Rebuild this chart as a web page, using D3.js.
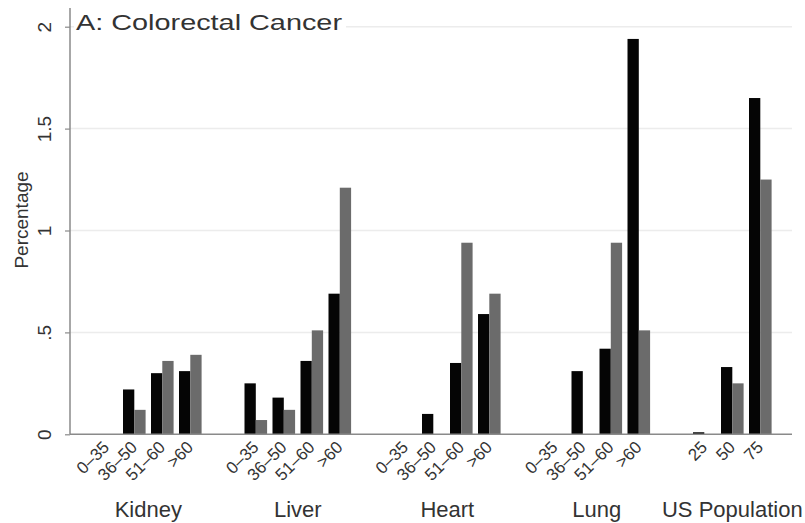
<!DOCTYPE html>
<html>
<head>
<meta charset="utf-8">
<script src="https://cdn.jsdelivr.net/npm/d3@7"></script>
<style>
  html, body { margin: 0; padding: 0; background: #fff; }
  svg { display: block; font-family: "Liberation Sans", Arial, sans-serif; }
</style>
</head>
<body>
<svg id="chart" width="805" height="523"></svg>
<script>
// Organ groups and the age bands shown under each of them
const organs = ["Kidney", "Liver", "Heart", "Lung", "US Population"];
const ageBands = ["0–35", "36–50", "51–60", ">60"];
const usAgeBands = ["25", "50", "75"];

// Percentages per organ, one entry per age band (null = no bar)
const seriesDark = [
  [null, 0.22, 0.30, 0.31],
  [0.25, 0.18, 0.36, 0.69],
  [null, 0.10, 0.35, 0.59],
  [null, 0.31, 0.42, 1.94],
  [0.01, 0.33, 1.65]
];
const seriesGrey = [
  [null, 0.12, 0.36, 0.39],
  [0.07, 0.12, 0.51, 1.21],
  [null, 0.00, 0.94, 0.69],
  [null, 0.00, 0.94, 0.51],
  [0.00, 0.25, 1.25]
];

const yTicks = [0, 0.5, 1, 1.5, 2];
const yTickLabels = ["0", ".5", "1", "1.5", "2"];

const svg = d3.select("#chart");
const plot = { left: 70, right: 792, bottom: 434.3, top: 26.7 };

const y = d3.scaleLinear().domain([0, 2]).range([plot.bottom, plot.top]);

const xOrgan = d3.scaleBand().domain(organs)
  .range([95, 95 + 704.6]).paddingInner(0.287).paddingOuter(0);
const xAge = d3.scaleBand().domain(d3.range(4))
  .range([0, xOrgan.bandwidth()]).paddingInner(0.193).paddingOuter(0);
const xSeries = d3.scaleBand().domain(["dark", "grey"])
  .range([0, xAge.bandwidth()]);

// Horizontal gridlines
svg.append("g").selectAll("line").data(yTicks.slice(1)).join("line")
  .attr("x1", plot.left).attr("x2", plot.right)
  .attr("y1", d => y(d)).attr("y2", d => y(d))
  .attr("stroke", "#ececec").attr("stroke-width", 1.5);

// Bars
const rows = [];
organs.forEach((org, i) => {
  seriesDark[i].forEach((v, j) => {
    if (v != null) rows.push({ org, j, s: "dark", v });
    const g = seriesGrey[i][j];
    if (g != null) rows.push({ org, j, s: "grey", v: g });
  });
});
svg.append("g").selectAll("rect").data(rows).join("rect")
  .attr("x", d => xOrgan(d.org) + xAge(d.j) + xSeries(d.s))
  .attr("width", xSeries.bandwidth())
  .attr("y", d => y(d.v))
  .attr("height", d => y(0) - y(d.v))
  .attr("fill", d => d.s === "dark" ? "#050505" : "#6b6b6b");

// Y axis
const yAxis = d3.axisLeft(y).tickValues(yTicks)
  .tickFormat((d, i) => yTickLabels[i]).tickSize(5).tickPadding(0);
const ga = svg.append("g").attr("transform", `translate(${plot.left},0)`).call(yAxis);
ga.select(".domain").attr("stroke", "#8a8a8a").attr("stroke-width", 1.5)
  .attr("d", `M0,${plot.bottom}V8`);
ga.selectAll(".tick line").attr("stroke", "#8a8a8a").attr("stroke-width", 1.2);
ga.selectAll(".tick text")
  .attr("x", 0).attr("dy", null).attr("y", 0)
  .attr("text-anchor", "middle")
  .attr("transform", "translate(-24,0) rotate(-90)")
  .attr("dominant-baseline", "middle")
  .attr("font-size", 19).attr("fill", "#333");

// Baseline
svg.append("line")
  .attr("x1", plot.left).attr("x2", plot.right)
  .attr("y1", y(0)).attr("y2", y(0))
  .attr("stroke", "#8a8a8a").attr("stroke-width", 1.5);

// Age band labels under each bar pair
const ageLabels = [];
organs.forEach((org, i) => {
  const bands = i === organs.length - 1 ? usAgeBands : ageBands;
  bands.forEach((lab, j) => ageLabels.push({ org, j, lab }));
});
svg.append("g").selectAll("text").data(ageLabels).join("text")
  .attr("transform", d => {
    const cx = xOrgan(d.org) + xAge(d.j) + xAge.bandwidth() / 2 + 4;
    return `translate(${cx},${y(0) + 14}) rotate(-45)`;
  })
  .attr("text-anchor", "end")
  .attr("font-size", 17).attr("fill", "#333")
  .text(d => d.lab);

// Organ group labels
svg.append("g").selectAll("text").data(organs).join("text")
  .attr("x", (d, i) => {
    const n = i === organs.length - 1 ? usAgeBands.length : ageBands.length;
    return xOrgan(d) + (xAge(n - 1) + xAge.bandwidth()) / 2;
  })
  .attr("y", 517)
  .attr("text-anchor", "middle")
  .attr("font-size", 22).attr("fill", "#333")
  .text(d => d);

// Y axis title
svg.append("text")
  .attr("transform", "translate(28,220) rotate(-90)")
  .attr("text-anchor", "middle")
  .attr("font-size", 19).attr("fill", "#333")
  .text("Percentage");

// Panel title on a white patch that hides the top gridline
const tg = svg.append("g");
const tbox = tg.append("rect").attr("fill", "#fff");
const title = tg.append("text")
  .attr("x", 76).attr("y", 29.5)
  .attr("font-size", 22).attr("fill", "#333")
  .attr("textLength", 266).attr("lengthAdjust", "spacingAndGlyphs")
  .text("A: Colorectal Cancer");
const bb = title.node().getBBox();
tbox.attr("x", bb.x - 2).attr("y", bb.y).attr("width", bb.width + 6).attr("height", bb.height);
</script>
</body>
</html>
